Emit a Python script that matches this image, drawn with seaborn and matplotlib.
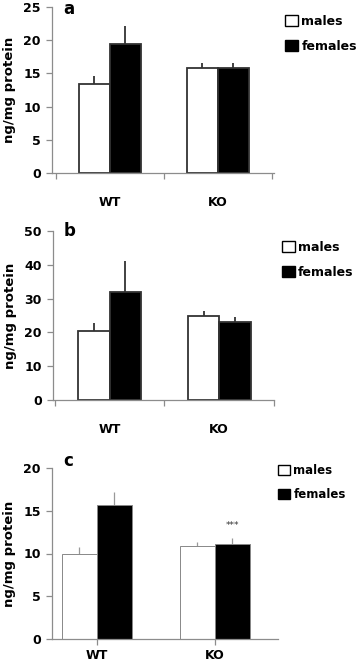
import numpy as np
import pandas as pd
import seaborn as sns
import matplotlib.pyplot as plt
from matplotlib.patches import Patch

sns.set_style("white")
plt.rcParams["font.family"] = ["DejaVu Sans"]
plt.rcParams["text.color"] = "black"
plt.rcParams["axes.labelcolor"] = "black"
plt.rcParams["xtick.labelcolor"] = "black"
plt.rcParams["ytick.labelcolor"] = "black"

genotypes = ["WT", "KO"]
sexes = ["males", "females"]

# panel a
a_males = [13.4, 15.8]
a_females = [19.5, 15.8]
a_males_err = [1.2, 0.7]
a_females_err = [2.6, 0.8]

# panel b
b_males = [20.5, 24.8]
b_females = [32.0, 23.1]
b_males_err = [2.2, 1.5]
b_females_err = [9.0, 1.4]

# panel c
c_males = [9.9, 10.9]
c_females = [15.7, 11.1]
c_males_err = [0.9, 0.4]
c_females_err = [1.5, 0.7]


def make_df(m, f):
    return pd.DataFrame({
        "genotype": genotypes * 2,
        "sex": ["males"] * 2 + ["females"] * 2,
        "value": list(m) + list(f),
    })


fig = plt.figure(figsize=(3.58, 6.61), dpi=100)
W, H = 358, 661


def add_ax(l, r, t, b):
    return fig.add_axes([l / W, (H - b) / H, (r - l) / W, (b - t) / H])


panels = [
    dict(box=(52, 274, 7, 173), m=a_males, f=a_females, me=a_males_err, fe=a_females_err,
         ylim=25, step=5, xlim=(-0.537, 1.519), width=0.574, letter="a",
         edge="#333333", lw=1.3, ecol="#333333", elw=1.3, style="ab",
         leg=(285, 24), lsp=0.95, lfs=9, letter_y=0.985),
    dict(box=(53, 274, 231, 400), m=b_males, f=b_females, me=b_males_err, fe=b_females_err,
         ylim=50, step=10, xlim=(-0.518, 1.49), width=0.573, letter="b",
         edge="#333333", lw=1.3, ecol="#333333", elw=1.3, style="ab",
         leg=(282, 250), lsp=0.95, lfs=9, letter_y=1.0),
    dict(box=(52, 278, 468, 639), m=c_males, f=c_females, me=c_males_err, fe=c_females_err,
         ylim=20, step=5, xlim=(-0.381, 1.534), width=0.593, letter="c",
         edge="#888888", lw=0.7, ecol="#999999", elw=0.9, style="c",
         leg=(278, 473), lsp=0.95, lfs=8.5, letter_y=1.04),
]

for p in panels:
    ax = add_ax(*p["box"])
    df = make_df(p["m"], p["f"])
    sns.barplot(data=df, x="genotype", y="value", hue="sex", order=genotypes,
                hue_order=sexes, palette={"males": "white", "females": "black"},
                width=p["width"], errorbar=None, edgecolor=p["edge"],
                linewidth=p["lw"], legend=False, ax=ax, zorder=2)
    # upper-only error bars at the bar tops
    errs = list(p["me"]) + list(p["fe"])
    vals = list(p["m"]) + list(p["f"])
    xs = [bar.get_x() + bar.get_width() / 2 for bar in ax.patches[:4]]
    ax.errorbar(xs, vals, yerr=[np.zeros(4), errs], fmt="none",
                ecolor=p["ecol"], elinewidth=p["elw"], capsize=0, zorder=1)

    ax.set_xlim(*p["xlim"])
    ax.set_ylim(0, p["ylim"])
    ax.set_yticks(np.arange(0, p["ylim"] + 1, p["step"]))
    ax.set_xlabel("")
    ax.set_ylabel("ng/mg protein", fontsize=9.5, fontweight="bold", labelpad=5)
    for s in ["top", "right"]:
        ax.spines[s].set_visible(False)
    for s in ["left", "bottom"]:
        ax.spines[s].set_color("#8c8c8c")
        ax.spines[s].set_linewidth(0.9)
    ax.tick_params(axis="y", left=True, length=4, width=0.9, color="#8c8c8c",
                   labelsize=9, pad=4)
    if p["style"] == "ab":
        ax.tick_params(axis="x", bottom=False, labelsize=9, pad=13)
        ax.set_xticks([-0.5, 0.5, 1.5], minor=True)
        ax.tick_params(axis="x", which="minor", bottom=True, length=4,
                       width=0.9, color="#8c8c8c")
    else:
        ax.tick_params(axis="x", bottom=True, length=4, width=0.9,
                       color="#8c8c8c", labelsize=9, pad=3)
    for t in ax.get_xticklabels() + ax.get_yticklabels():
        t.set_fontweight("bold")
    ax.text(0.05, p["letter_y"], p["letter"], transform=ax.transAxes, fontsize=12,
            fontweight="bold", va="center", ha="left")
    if p["letter"] == "c":
        ax.text(xs[3], vals[3] + errs[3] + 0.9, "***", ha="center", va="bottom",
                fontsize=6.5, color="#333333")

    handles = [Patch(facecolor="white", edgecolor="black", linewidth=1.0),
               Patch(facecolor="black", edgecolor="black", linewidth=1.0)]
    lx, ly = p["leg"]
    fig.legend(handles, sexes, loc="upper left",
               bbox_to_anchor=(lx / W, (H - ly + 9) / H), frameon=False,
               handlelength=1.0, handleheight=1.0, handletextpad=0.3,
               labelspacing=p["lsp"], borderpad=0.0, borderaxespad=0,
               prop={"size": p["lfs"], "weight": "bold"})

fig.savefig("out.png", dpi=100)
